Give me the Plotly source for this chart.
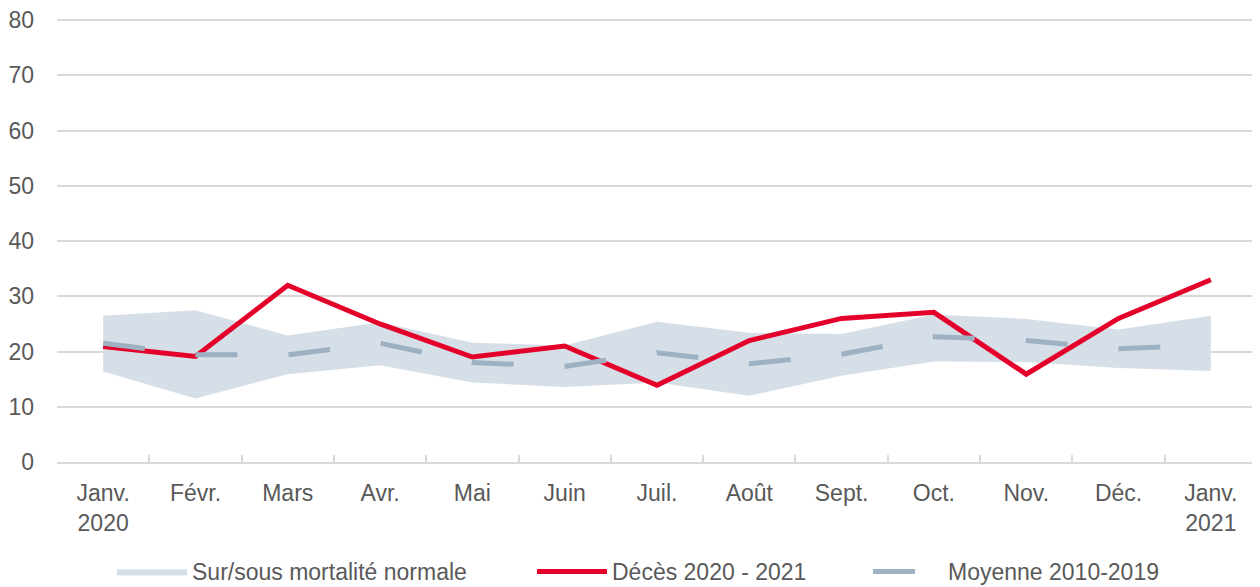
import plotly.graph_objects as go

months = ["Janv.<br>2020", "Févr.", "Mars", "Avr.", "Mai", "Juin", "Juil.", "Août",
          "Sept.", "Oct.", "Nov.", "Déc.", "Janv.<br>2021"]
deces = [20.9, 19.1, 32.0, 25.0, 19.0, 21.0, 13.9, 22.0, 26.0, 27.1, 15.9, 26.0, 33.0]
moyenne = [21.5, 19.4, 19.4, 21.5, 18.0, 17.3, 19.8, 17.8, 19.5, 22.7, 22.0, 20.5, 21.2]
bande_haute = [26.5, 27.5, 22.9, 25.3, 21.6, 21.1, 25.4, 23.4, 23.2, 26.7, 25.9, 24.0, 26.5]
bande_basse = [16.4, 11.5, 15.9, 17.5, 14.4, 13.6, 14.4, 12.0, 15.6, 18.2, 18.1, 17.0, 16.5]
y_ticks = [0, 10, 20, 30, 40, 50, 60, 70, 80]

TEXT = "#595959"
GRID = "#d9d9d9"
FONT = "Liberation Sans, Arial, Helvetica, sans-serif"

fig = go.Figure()
fig.add_trace(go.Scatter(x=months, y=bande_basse, mode="lines", line=dict(width=0),
                         showlegend=False, hoverinfo="skip"))
fig.add_trace(go.Scatter(x=months, y=bande_haute, mode="lines", line=dict(width=0),
                         fill="tonexty", fillcolor="#d6dfe7",
                         name="Sur/sous mortalité normale", legend="legend"))
fig.add_trace(go.Scatter(x=months, y=deces, mode="lines",
                         line=dict(color="#e4002b", width=5),
                         name="Décès 2020 - 2021", legend="legend2"))
fig.add_trace(go.Scatter(x=months, y=moyenne, mode="lines",
                         line=dict(color="#9db1c2", width=5, dash="42px,51px"),
                         name="Moyenne 2010-2019", legend="legend3"))

W, H = 1252, 579  # page body adds an 8px offset


def leg(xpos):
    return dict(orientation="h", xref="container", yref="container",
                x=xpos, y=0.064, xanchor="left", yanchor="top",
                itemwidth=70, font=dict(size=23, color=TEXT),
                bgcolor="rgba(0,0,0,0)")


fig.update_layout(
    width=W, height=H,
    margin=dict(l=49, r=3, t=10, b=125, autoexpand=False),
    paper_bgcolor="white", plot_bgcolor="white",
    font=dict(family=FONT, size=23, color=TEXT),
    legend=leg(104 / W),
    legend2=leg(524 / W),
    legend3=leg(860 / W),
    xaxis=dict(type="category", range=[-0.5, 12.5], showgrid=False, automargin=False,
               showline=True, linecolor=GRID, linewidth=2,
               ticks="inside", tickson="boundaries", ticklen=7, tickcolor=GRID,
               tickwidth=1.5, ticklabelstandoff=9, tickfont=dict(size=23, color=TEXT)),
    yaxis=dict(range=[0, 80.4], tickmode="array", tickvals=y_ticks,
               showgrid=True, gridcolor=GRID, gridwidth=2,
               automargin=False, ticklabeloverflow="allow",
               zeroline=False, showline=False, ticks="", ticklabelstandoff=22,
               tickfont=dict(size=23, color=TEXT)),
)

fig.write_html("out.html")
